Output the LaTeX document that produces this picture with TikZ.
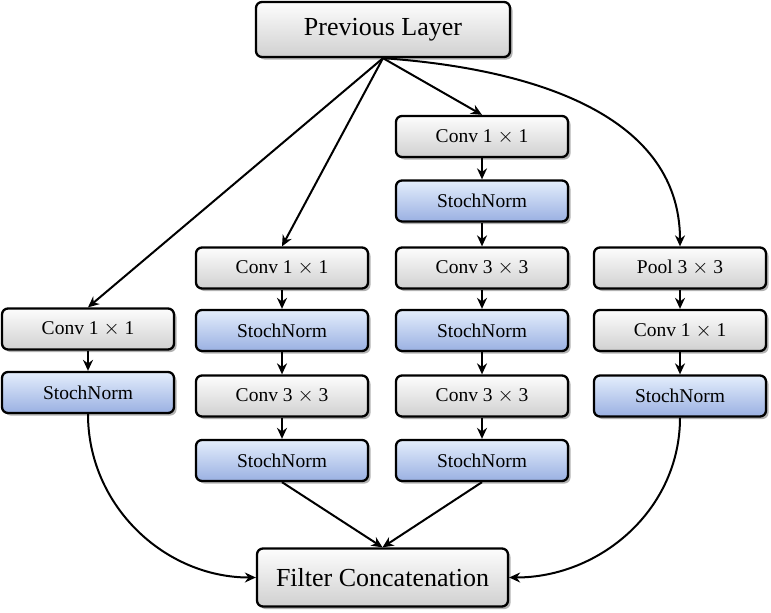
\documentclass[tikz,border=0pt]{standalone}
\usepackage{fontspec}
\setmainfont{Liberation Serif}
\usetikzlibrary{shadows,arrows.meta}
\definecolor{gtop}{HTML}{FDFDFD}
\definecolor{gbot}{HTML}{D0D0D0}
\definecolor{btop}{HTML}{E4EEFC}
\definecolor{bbot}{HTML}{9AB0E2}
\tikzset{
  box/.style={draw=black, line width=2.3pt, rounded corners=6pt,
    minimum width=172pt, minimum height=41pt, inner sep=0pt,
    top color=gtop, bottom color=gbot, font=\fontsize{19.5}{21}\selectfont,
    drop shadow={shadow xshift=2.5pt, shadow yshift=-2.5pt, opacity=0.5, fill=black!60}},
  bbox/.style={box, top color=btop, bottom color=bbot},
  bigbox/.style={box, minimum width=254pt, minimum height=55pt, font=\fontsize{26}{29}\selectfont},
  arr/.style={-{Stealth[length=11pt,width=10pt]}, line width=2pt},
}
\begin{document}
\begin{tikzpicture}[x=1pt,y=-1pt]
\useasboundingbox (0,0) rectangle (771,613);
\node[bigbox] (prev) at (383,29.5) {Previous Layer};
\node[bigbox, minimum width=251pt, minimum height=58pt] (cat) at (382.5,577.5) {Filter Concatenation};
% column 1
\node[box] (a1) at (88,329) {Conv 1 $\times$ 1};
\node[bbox] (a2) at (88,392.5) {StochNorm};
% column 2
\node[box] (b1) at (282,268) {Conv 1 $\times$ 1};
\node[bbox] (b2) at (282,330.5) {StochNorm};
\node[box] (b3) at (282,396) {Conv 3 $\times$ 3};
\node[bbox] (b4) at (282,460.5) {StochNorm};
% column 3
\node[box] (c1) at (482,136.5) {Conv 1 $\times$ 1};
\node[bbox] (c2) at (482,201) {StochNorm};
\node[box] (c3) at (482,268) {Conv 3 $\times$ 3};
\node[bbox] (c4) at (482,330.5) {StochNorm};
\node[box] (c5) at (482,396) {Conv 3 $\times$ 3};
\node[bbox] (c6) at (482,460.5) {StochNorm};
% column 4
\node[box] (d1) at (680,268) {Pool 3 $\times$ 3};
\node[box] (d2) at (680,330.5) {Conv 1 $\times$ 1};
\node[bbox] (d3) at (680,396) {StochNorm};
% top connectors
\coordinate (ps) at (prev.south);
\draw[arr] (ps) -- (a1.north);
\draw[arr] (ps) -- (b1.north);
\draw[arr] (ps) -- (c1.north);
\draw[arr] (ps) to[out=-4, in=90] (d1.north);
% column connectors
\draw[arr] (a1) -- (a2);
\draw[arr] (b1) -- (b2);
\draw[arr] (b2) -- (b3);
\draw[arr] (b3) -- (b4);
\draw[arr] (c1) -- (c2);
\draw[arr] (c2) -- (c3);
\draw[arr] (c3) -- (c4);
\draw[arr] (c4) -- (c5);
\draw[arr] (c5) -- (c6);
\draw[arr] (d1) -- (d2);
\draw[arr] (d2) -- (d3);
% bottom connectors
\draw[arr] (a2.south) to[out=-90, in=180] (cat.west);
\draw[arr] (b4.south) -- (cat.north);
\draw[arr] (c6.south) -- (cat.north);
\draw[arr] (d3.south) to[out=-90, in=0] (cat.east);
\end{tikzpicture}
\end{document}
